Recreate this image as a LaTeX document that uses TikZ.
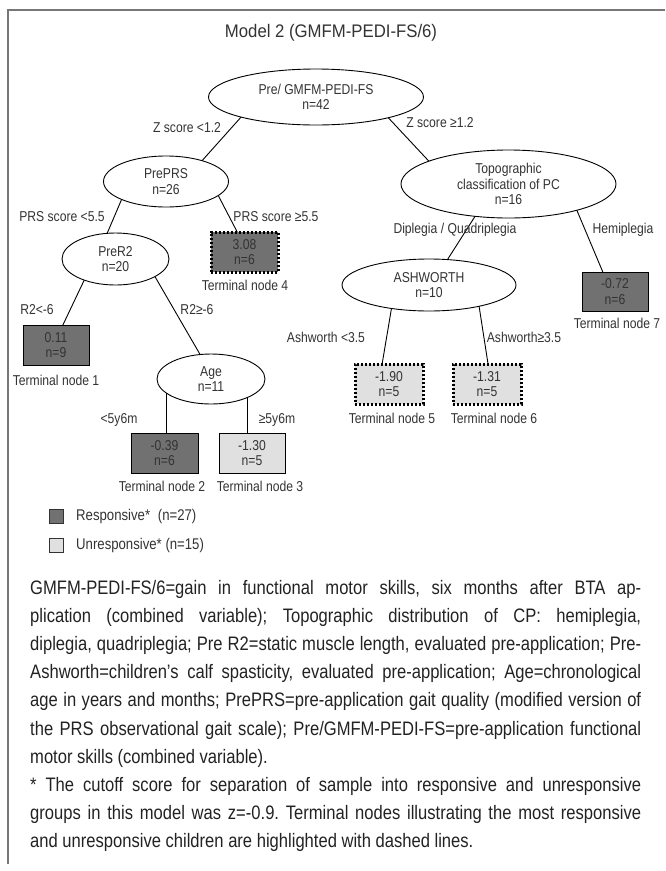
\documentclass[tikz,border=0pt]{standalone}
\usepackage{fontspec}
\usetikzlibrary{shapes.geometric}
\setmainfont{Liberation Sans}[FakeStretch=0.85]
\newfontfamily\titlefont{Liberation Sans}[FakeStretch=0.92]
\definecolor{darkfill}{HTML}{717171}
\definecolor{lightfill}{HTML}{E0E0E0}
\definecolor{txt}{HTML}{333333}
\definecolor{captxt}{HTML}{222222}
\definecolor{framec}{HTML}{777777}
\frenchspacing
\begin{document}
\begin{tikzpicture}[x=1pt,y=-1pt,
  treefont/.style={font=\fontsize{14.3}{15.5}\selectfont, text=txt},
  split/.style={ellipse, draw=black, line width=0.9pt, fill=white, inner sep=0pt, outer sep=0pt, align=center, treefont},
  term/.style={rectangle, draw=black, line width=0.9pt, inner sep=0pt, outer sep=0pt, align=center, treefont, minimum width=67pt, minimum height=40pt},
  resp/.style={term, fill=darkfill},
  unresp/.style={term, fill=lightfill},
  hilite/.style={line width=3pt, dash pattern=on 2.4pt off 1.6pt},
  lbl/.style={treefont, inner sep=0pt},
  edge/.style={draw=black, line width=0.9pt},
  captext/.style={font=\fontsize{19.5}{28.2}\selectfont, text=captxt, inner sep=0pt, anchor=base west},
  legtext/.style={font=\fontsize{15.5}{17}\selectfont, text=txt, inner sep=0pt, anchor=west},
  legbox/.style={draw=black!80, line width=0.8pt, minimum size=14pt, inner sep=0pt},
  framel/.style={draw=framec, line width=1.5pt}
]
\useasboundingbox (0,0) rectangle (665,871);
% frame
\coordinate (ftl) at (8,10);
\coordinate (ftr) at (665,10);
\coordinate (fbl) at (8,864);
\draw[framel] (ftr) -- (ftl) -- (fbl);
% title
\node[font=\titlefont\fontsize{18.2}{20}\selectfont, text=txt, inner sep=0pt] (title) at (331,33) {Model 2 (GMFM-PEDI-FS/6)};
% split nodes
\node[split, minimum width=215pt, minimum height=56pt] (root) at (316,97) {Pre/ GMFM-PEDI-FS\\n=42};
\node[split, minimum width=125pt, minimum height=51pt] (prePRS) at (166,181.5) {PrePRS\\n=26};
\node[split, minimum width=215pt, minimum height=68pt] (topo) at (508.5,184) {Topographic\\classification of PC\\n=16};
\node[split, minimum width=107pt, minimum height=52pt] (preR2) at (115.5,259) {PreR2\\n=20};
\node[split, minimum width=174pt, minimum height=52pt] (ash) at (429,285) {ASHWORTH\\n=10};
\node[split, minimum width=108pt, minimum height=50pt] (age) at (211,379) {Age\\n=11};
% terminal nodes
\node[resp, hilite] (box4) at (244.5,252) {3.08\\n=6};
\node[resp, minimum width=66pt, minimum height=39pt] (box7) at (615,291.5) {-0.72\\n=6};
\node[resp, minimum width=66pt] (box1) at (56,345) {0.11\\n=9};
\node[unresp, hilite, minimum width=68pt] (box5) at (389,384) {-1.90\\n=5};
\node[unresp, hilite, minimum width=68pt] (box6) at (487,384) {-1.31\\n=5};
\node[resp] (box2) at (164.5,453) {-0.39\\n=6};
\node[unresp, minimum width=66pt] (box3) at (252,453) {-1.30\\n=5};
% connectors
\draw[edge] (root.195) -- (prePRS.30);
\draw[edge] (root.344) -- (topo.164);
\draw[edge] (prePRS.202) -- (preR2.108);
\draw[edge] (prePRS.345) -- (box4.110);
\draw[edge] (topo.224) -- (ash.54);
\draw[edge] (topo.339) -- (box7.122);
\draw[edge] (preR2.214) -- (box1.71);
\draw[edge] (preR2.336) -- (age.114);
\draw[edge] (ash.212) -- (box5.109);
\draw[edge] (ash.337) -- (box6.87);
\draw[edge] (age.198) -- (age.198 |- box2.north);
\draw[edge] (age.333) -- (age.333 |- box3.north);
% labels
\node[lbl] (lz1) at (187,128) {Z score <1.2};
\node[lbl] (lz2) at (440,123) {Z score ≥1.2};
\node[lbl] (lp1) at (62,217) {PRS score <5.5};
\node[lbl] (lp2) at (276,217) {PRS score ≥5.5};
\node[lbl] (ld) at (455,230) {Diplegia / Quadriplegia};
\node[lbl] (lh) at (623,230) {Hemiplegia};
\node[lbl] (t4) at (245,285) {Terminal node 4};
\node[lbl] (t7) at (617,323) {Terminal node 7};
\node[lbl] (lr1) at (37,310) {R2<-6};
\node[lbl] (lr2) at (197,310) {R2≥-6};
\node[lbl] (la1) at (326,337) {Ashworth <3.5};
\node[lbl] (la2) at (524,337) {Ashworth≥3.5};
\node[lbl] (t1) at (56,380) {Terminal node 1};
\node[lbl] (t5) at (392,418) {Terminal node 5};
\node[lbl] (t6) at (494,418) {Terminal node 6};
\node[lbl] (lg1) at (119,420) {<5y6m};
\node[lbl] (lg2) at (277,420) {≥5y6m};
\node[lbl] (t2) at (162,486) {Terminal node 2};
\node[lbl] (t3) at (260,486) {Terminal node 3};
% legend
\node[legbox, fill=darkfill] (legR) at (56,516) {};
\node[legtext] (legRt) at (76,516) {Responsive*\hspace{0.5em}(n=27)};
\node[legbox, fill=lightfill] (legU) at (56,545) {};
\node[legtext] (legUt) at (76,545) {Unresponsive* (n=15)};
% caption
\node[captext] (cap1) at (30,594) {\makebox[611pt][s]{GMFM-PEDI-FS/6=gain in functional motor skills, six months after BTA ap-}};
\node[captext] (cap2) at (30,622.2) {\makebox[611pt][s]{plication (combined variable); Topographic distribution of CP: hemiplegia,}};
\node[captext] (cap3) at (30,650.4) {\makebox[611pt][s]{diplegia, quadriplegia; Pre R2=static muscle length, evaluated pre-application; Pre-}};
\node[captext] (cap4) at (30,678.6) {\makebox[611pt][s]{Ashworth=children’s calf spasticity, evaluated pre-application; Age=chronological}};
\node[captext] (cap5) at (30,706.8) {\makebox[611pt][s]{age in years and months; PrePRS=pre-application gait quality (modified version of}};
\node[captext] (cap6) at (30,735) {\makebox[611pt][s]{the PRS observational gait scale); Pre/GMFM-PEDI-FS=pre-application functional}};
\node[captext] (cap7) at (30,763.2) {motor skills (combined variable).};
\node[captext] (cap8) at (30,791.4) {\makebox[611pt][s]{* The cutoff score for separation of sample into responsive and unresponsive}};
\node[captext] (cap9) at (30,819.6) {\makebox[611pt][s]{groups in this model was z=-0.9. Terminal nodes illustrating the most responsive}};
\node[captext] (cap10) at (30,847.8) {and unresponsive children are highlighted with dashed lines.};
\end{tikzpicture}
\end{document}
